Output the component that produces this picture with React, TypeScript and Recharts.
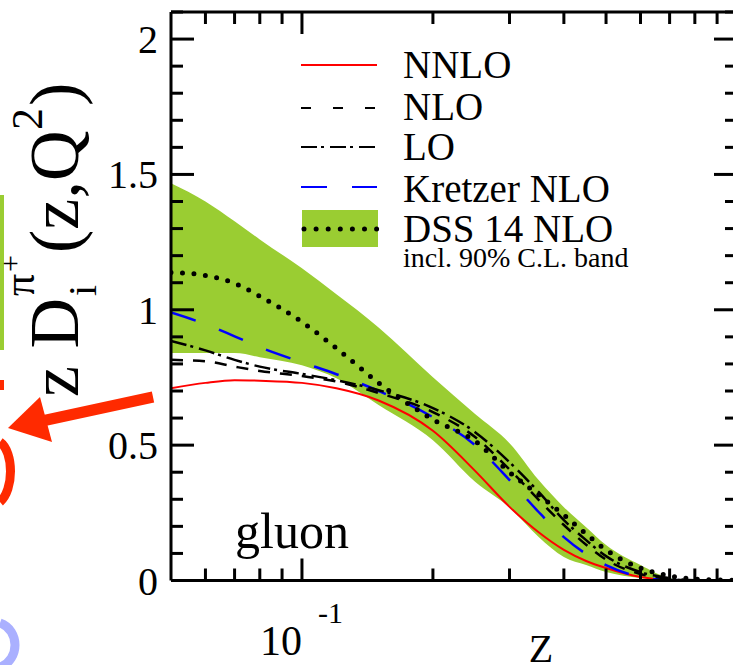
import { ComposedChart, Line, Area, XAxis, YAxis, ReferenceLine } from 'recharts';

// z grid (log axis) and curves
const zValues = [0.05, 0.06, 0.07, 0.08, 0.1, 0.12, 0.15, 0.2, 0.25, 0.3, 0.35, 0.4, 0.45, 0.5, 0.6, 0.7, 0.8, 0.9, 1.0];
const nnlo = [0.71, 0.73, 0.74, 0.738, 0.73, 0.71, 0.665, 0.553, 0.405, 0.272, 0.178, 0.113, 0.072, 0.046, 0.013, 0.002, 0, 0, 0];
const nlo = [0.815, 0.81, 0.79, 0.774, 0.755, 0.735, 0.693, 0.622, 0.53, 0.41, 0.298, 0.205, 0.132, 0.077, 0.024, 0.006, 0, 0, 0];
const lo = [0.885, 0.85, 0.815, 0.79, 0.763, 0.74, 0.703, 0.637, 0.548, 0.437, 0.327, 0.223, 0.149, 0.09, 0.031, 0.009, 0.001, 0, 0];
const kretzer = [0.99, 0.947, 0.902, 0.862, 0.806, 0.762, 0.7, 0.603, 0.5, 0.371, 0.253, 0.16, 0.098, 0.057, 0.013, 0.002, 0, 0, 0];
const dss = [1.138, 1.127, 1.098, 1.05, 0.955, 0.858, 0.73, 0.595, 0.515, 0.4, 0.316, 0.242, 0.172, 0.113, 0.046, 0.017, 0.005, 0.002, 0];
const bandLow = [0.84, 0.84, 0.84, 0.825, 0.795, 0.747, 0.648, 0.518, 0.365, 0.27, 0.161, 0.087, 0.057, 0.031, 0.009, 0, 0, 0, 0];
const bandHigh = [1.467, 1.4, 1.327, 1.26, 1.153, 1.057, 0.935, 0.751, 0.615, 0.507, 0.371, 0.271, 0.197, 0.131, 0.057, 0.009, 0, 0, 0];

const xTicks = [0.06, 0.07, 0.08, 0.09, 0.1, 0.2, 0.3, 0.4, 0.5, 0.6, 0.7, 0.8, 0.9, 1];
const yTicks = [0, 0.1, 0.2, 0.3, 0.4, 0.5, 0.6, 0.7, 0.8, 0.9, 1, 1.1, 1.2, 1.3, 1.4, 1.5, 1.6, 1.7, 1.8, 1.9, 2, 2.1];
const yTickLabels = ['0', '0.5', '1', '1.5', '2'];

const FONT = '"Liberation Serif", "Times New Roman", serif';
const GREEN = '#9acd32';
const PLOT = { left: 171, right: 737, top: 12, bottom: 580.5 };

const chartData = zValues.map((z, i) => ({
  z,
  nnlo: nnlo[i],
  nlo: nlo[i],
  lo: lo[i],
  kretzer: kretzer[i],
  dss: dss[i],
  band: [bandLow[i], bandHigh[i]],
}));

const YTick = ({ y, payload }: any) => {
  const v = payload.value;
  const label = String(Math.round(v * 10) / 10);
  const major = yTickLabels.includes(label);
  const len = major ? 23 : 12;
  return (
    <g>
      <line x1={PLOT.left} x2={PLOT.left + len} y1={y} y2={y} stroke="#000" strokeWidth={3} />
      <line x1={PLOT.right} x2={PLOT.right - len} y1={y} y2={y} stroke="#000" strokeWidth={3} />
      {major && (
        <text x={158} y={y + 14} textAnchor="end" fontSize={40} fontFamily={FONT} fill="#000">
          {label}
        </text>
      )}
    </g>
  );
};

const XTick = ({ x, payload }: any) => {
  const v = payload.value;
  const major = v === 0.1 || v === 1;
  const len = major ? 22 : 12;
  return (
    <g>
      <line x1={x} x2={x} y1={PLOT.bottom} y2={PLOT.bottom - len} stroke="#000" strokeWidth={3} />
      <line x1={x} x2={x} y1={PLOT.top} y2={PLOT.top + len} stroke="#000" strokeWidth={3} />
      {v === 0.1 && (
        <g fontFamily={FONT} fill="#000">
          <text x={x} y={655} textAnchor="end" fontSize={42}>10</text>
          <text x={x + 16} y={623} fontSize={30}>-1</text>
        </g>
      )}
      {v === 1 && (
        <text x={x - 6} y={655} fontSize={42} fontFamily={FONT} fill="#000">1</text>
      )}
    </g>
  );
};

const Rot = ({ x, y, size, children }: any) => (
  <text transform={`translate(${x},${y}) rotate(-90)`} fontSize={size} fontFamily={FONT} fill="#000">
    {children}
  </text>
);

const Legend = () => {
  const rows = [
    { label: 'NNLO', y: 65, ty: 78, stroke: '#ff0000', dash: undefined },
    { label: 'NLO', y: 108, ty: 120, stroke: '#000', dash: '10 22' },
    { label: 'LO', y: 147, ty: 160, stroke: '#000', dash: '16 4 3 6' },
    { label: 'Kretzer NLO', y: 187, ty: 202, stroke: '#0000ff', dash: '26 25' },
  ];
  return (
    <g fontFamily={FONT} fill="#000">
      {rows.map((r) => (
        <g key={r.label}>
          <line x1={301} x2={377} y1={r.y} y2={r.y} stroke={r.stroke} strokeWidth={2} strokeDasharray={r.dash} />
          <text x={403} y={r.ty} fontSize={39}>{r.label}</text>
        </g>
      ))}
      <rect x={302} y={210} width={76} height={37} fill={GREEN} />
      <line x1={304} x2={377} y1={229} y2={229} stroke="#000" strokeWidth={5} strokeLinecap="round" strokeDasharray="0 12.1" />
      <text x={403} y={242} fontSize={39}>DSS 14 NLO</text>
      <text x={403} y={267} fontSize={28}>incl. 90% C.L. band</text>
    </g>
  );
};

export default function App() {
  return (
    <div style={{ position: 'absolute', left: 0, top: 0, width: 733, height: 665, overflow: 'hidden', background: '#fff' }}>
      <ComposedChart
        width={760}
        height={665}
        data={chartData}
        margin={{ top: PLOT.top, right: 760 - PLOT.right, left: 0, bottom: 0 }}
      >
        <XAxis
          dataKey="z"
          type="number"
          scale="log"
          domain={[0.05, 1]}
          allowDataOverflow
          ticks={xTicks}
          interval={0}
          height={665 - PLOT.bottom}
          axisLine={{ stroke: '#000', strokeWidth: 3 }}
          tickLine={false}
          tick={<XTick />}
        />
        <YAxis
          type="number"
          domain={[0, 2.1]}
          allowDataOverflow
          ticks={yTicks}
          interval={0}
          width={PLOT.left}
          axisLine={{ stroke: '#000', strokeWidth: 3 }}
          tickLine={false}
          tick={<YTick />}
        />
        <Area dataKey="band" type="monotone" stroke="none" fill={GREEN} fillOpacity={1} isAnimationActive={false} />
        <Line dataKey="nnlo" type="monotone" stroke="#ff0000" strokeWidth={2} dot={false} isAnimationActive={false} />
        <Line dataKey="kretzer" type="monotone" stroke="#0000ff" strokeWidth={2.5} strokeDasharray="26 25" dot={false} isAnimationActive={false} />
        <Line dataKey="nlo" type="monotone" stroke="#000" strokeWidth={2.5} strokeDasharray="12 10" dot={false} isAnimationActive={false} />
        <Line dataKey="lo" type="monotone" stroke="#000" strokeWidth={2.5} strokeDasharray="16 4 3 6" dot={false} isAnimationActive={false} />
        <Line dataKey="dss" type="monotone" stroke="#000" strokeWidth={5} strokeLinecap="round" strokeDasharray="0 11.5" dot={false} isAnimationActive={false} />
        <ReferenceLine y={2.1} stroke="#000" strokeWidth={3} />
        <ReferenceLine x={1} stroke="#000" strokeWidth={3} />
      </ComposedChart>
      <svg width={733} height={665} style={{ position: 'absolute', left: 0, top: 0, pointerEvents: 'none' }}>
        {/* pieces of the slide around the figure */}
        <rect x={0} y={195} width={4} height={155} fill={GREEN} />
        <line x1={153} y1={397} x2={42} y2={421} stroke="#ff2a00" strokeWidth={11} />
        <polygon points="8,428 40,397 52,442" fill="#ff2a00" />
        <path d="M0,442 C14,452 14,490 0,502" stroke="#ff2a00" strokeWidth={9} fill="none" />
        <rect x={0} y={380} width={4} height={10} fill="#ff2a00" />
        <path d="M0,623 C20,630 20,660 0,667" stroke="#aab0ff" strokeWidth={9} fill="none" />

        <Legend />
        <text x={235} y={548} fontSize={50} fontFamily={FONT} fill="#000">gluon</text>
        <text x={541} y={662} textAnchor="middle" fontSize={40} fontFamily={FONT} fill="#000">Z</text>

        {/* y label: z D_i^{pi+}(z,Q^2) */}
        <Rot x={78} y={397} size={70}>z D</Rot>
        <Rot x={96} y={296} size={40}>i</Rot>
        <Rot x={34} y={296} size={44}>π</Rot>
        <Rot x={20} y={272} size={30}>+</Rot>
        <Rot x={78} y={253} size={70}>(z,Q</Rot>
        <Rot x={42} y={130} size={44}>2</Rot>
        <Rot x={78} y={106} size={70}>)</Rot>
      </svg>
    </div>
  );
}
